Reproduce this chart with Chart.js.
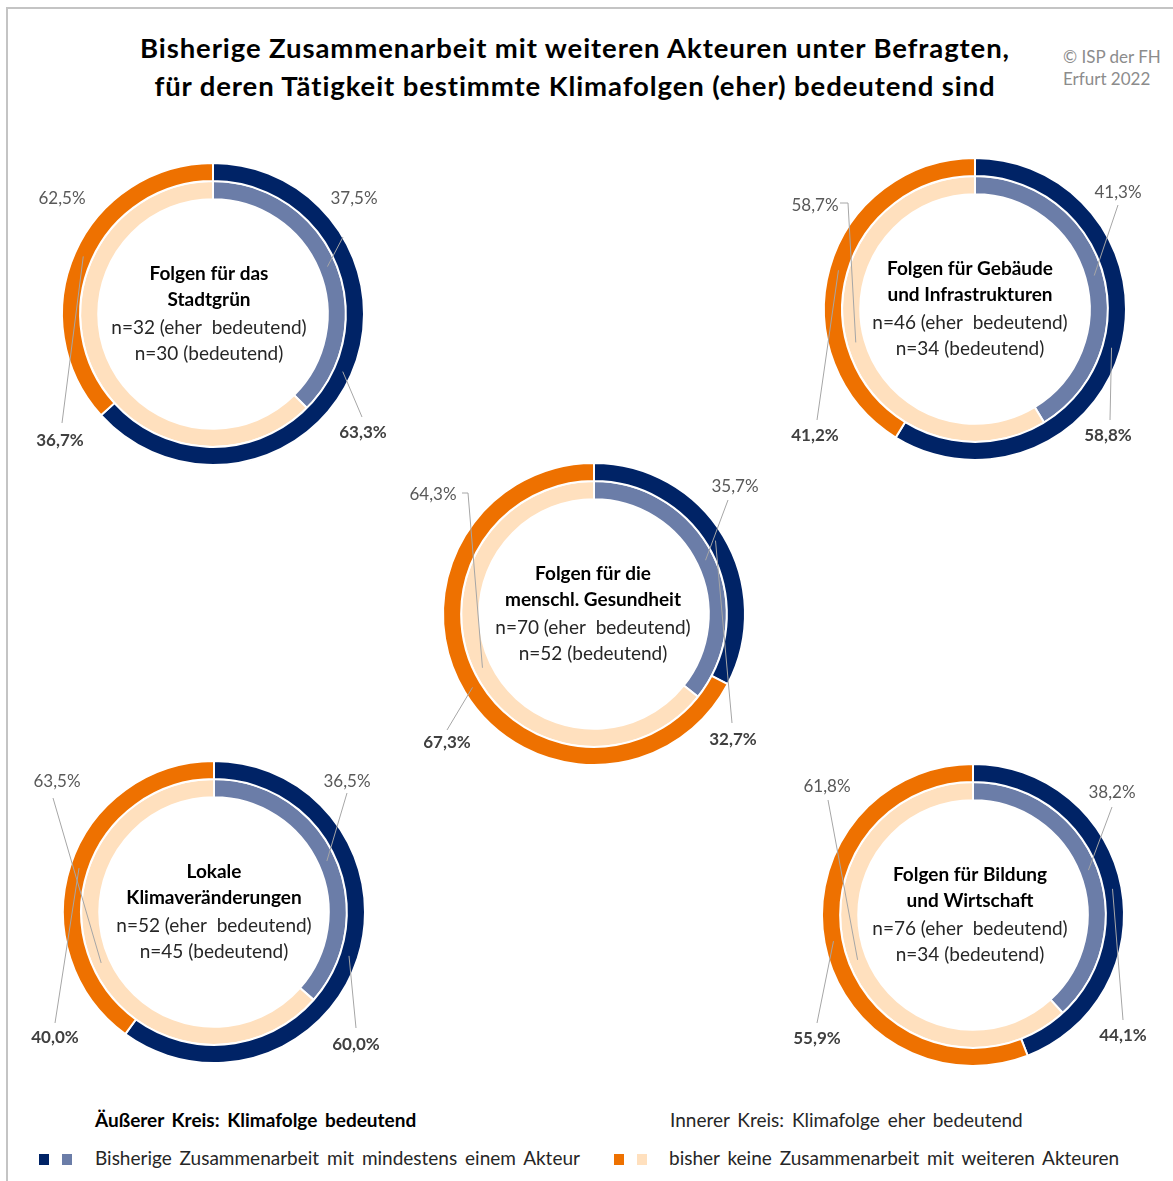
<!DOCTYPE html>
<html lang="de">
<head>
<meta charset="utf-8">
<title>Bisherige Zusammenarbeit mit weiteren Akteuren</title>
<script src="https://cdn.jsdelivr.net/npm/chart.js@4.4.1/dist/chart.umd.min.js"></script>
<style>
  html, body { margin: 0; padding: 0; background: #fff; }
  body { width: 1173px; height: 1181px; position: relative; overflow: hidden; font-family: Lato, "Open Sans", sans-serif; }
  .frame { position: absolute; left: 6px; top: 7px; right: -10px; bottom: -10px; border-left: 2px solid #c4c4c4; border-top: 2px solid #c4c4c4; }
  h1 { position: absolute; left: 0; top: 29px; width: 1150px; margin: 0; text-align: center; font-size: 27.5px; letter-spacing: 0.9px; line-height: 38px; font-weight: 700; color: #000; }
  .copy { position: absolute; left: 1063px; top: 46px; font-size: 17px; line-height: 22px; color: #8c8c8c; }
  .ring { position: absolute; }
  .legend { position: absolute; font-size: 19px; color: #262626; white-space: nowrap; word-spacing: 3px; }
  .legend b { font-weight: 700; color: #000; }
  .sw { position: absolute; width: 10px; height: 11px; }
</style>
</head>
<body>
<div class="frame"></div>
<h1>Bisherige Zusammenarbeit mit weiteren Akteuren unter Befragten,<br>für deren Tätigkeit bestimmte Klimafolgen (eher) bedeutend sind</h1>
<div class="copy">© ISP der FH<br>Erfurt 2022</div>

<div class="ring" id="r0"><canvas id="c0" width="420" height="330"></canvas></div>
<div class="ring" id="r1"><canvas id="c1" width="420" height="330"></canvas></div>
<div class="ring" id="r2"><canvas id="c2" width="420" height="330"></canvas></div>
<div class="ring" id="r3"><canvas id="c3" width="420" height="330"></canvas></div>
<div class="ring" id="r4"><canvas id="c4" width="420" height="330"></canvas></div>

<div class="legend" style="left:95px; top:1108px;"><b>Äußerer Kreis: Klimafolge bedeutend</b></div>
<div class="legend" style="left:670px; top:1108px;">Innerer Kreis: Klimafolge eher bedeutend</div>
<div class="sw" style="left:39px; top:1154px; background:#002366;"></div>
<div class="sw" style="left:62px; top:1154px; background:#6b7da8;"></div>
<div class="legend" style="left:95px; top:1146px;">Bisherige Zusammenarbeit mit mindestens einem Akteur</div>
<div class="sw" style="left:614px; top:1154px; background:#ee7100;"></div>
<div class="sw" style="left:637px; top:1154px; background:#ffe0be;"></div>
<div class="legend" style="left:669px; top:1146px;">bisher keine Zusammenarbeit mit weiteren Akteuren</div>

<script>
// Klimafolgen (Reihenfolge: Stadtgrün, Gebäude, Gesundheit, Lokal, Bildung)
const topics = [
  ['Folgen für das', 'Stadtgrün'],
  ['Folgen für Gebäude', 'und Infrastrukturen'],
  ['Folgen für die', 'menschl. Gesundheit'],
  ['Lokale', 'Klimaveränderungen'],
  ['Folgen für Bildung', 'und Wirtschaft']
]
const nEherBedeutend = [32, 46, 70, 52, 76]
const nBedeutend = [30, 34, 52, 45, 34]

// äußerer Kreis: Klimafolge bedeutend (%)
const outerMitAkteur = [63.3, 58.8, 32.7, 60.0, 44.1]
const outerKeine = [36.7, 41.2, 67.3, 40.0, 55.9]
// innerer Kreis: Klimafolge eher bedeutend (%)
const innerMitAkteur = [37.5, 41.3, 35.7, 36.5, 38.2]
const innerKeine = [62.5, 58.7, 64.3, 63.5, 61.8]

const colors = {
  outer: ['#002366', '#ee7100'],
  inner: ['#6b7da8', '#ffe0be']
}

// Lage der Diagramme (Mittelpunkt) und der Beschriftungen, relativ zum Mittelpunkt
const centers = [[213, 314], [975, 309], [594, 614], [214, 912], [973, 915]]
const textDx = [-4, -5, -1, 0, -3]
const labelLayout = [
  [
    { ring: 1, i: 0, at: [141, -115], lead: [[130, -77]] },
    { ring: 1, i: 1, at: [-151, -115], lead: null },
    { ring: 0, i: 0, at: [150, 119], lead: [[149, 103]] },
    { ring: 0, i: 1, at: [-153, 127], lead: [[-151, 109]] }
  ],
  [
    { ring: 1, i: 0, at: [143, -116], lead: [[143, -104]] },
    { ring: 1, i: 1, at: [-160, -103], lead: [[-135, -106], [-127, -106]] },
    { ring: 0, i: 0, at: [133, 127], lead: [[135, 111]] },
    { ring: 0, i: 1, at: [-160, 127], lead: [[-158, 111]] }
  ],
  [
    { ring: 1, i: 0, at: [141, -127], lead: [[134, -114]] },
    { ring: 1, i: 1, at: [-161, -119], lead: [[-132, -121], [-126, -121]] },
    { ring: 0, i: 0, at: [139, 126], lead: [[138, 109]] },
    { ring: 0, i: 1, at: [-147, 129], lead: [[-147, 116]] }
  ],
  [
    { ring: 1, i: 0, at: [133, -130], lead: [[133, -119]] },
    { ring: 1, i: 1, at: [-157, -130], lead: [[-161, -114]] },
    { ring: 0, i: 0, at: [142, 133], lead: [[142, 116]] },
    { ring: 0, i: 1, at: [-159, 126], lead: [[-159, 111]] }
  ],
  [
    { ring: 1, i: 0, at: [139, -122], lead: [[139, -108]] },
    { ring: 1, i: 1, at: [-146, -128], lead: [[-145, -115]] },
    { ring: 0, i: 0, at: [150, 121], lead: [[150, 105]] },
    { ring: 0, i: 1, at: [-156, 124], lead: [[-156, 108]] }
  ]
]

const W = 420, H = 330, AREA = 304
const FONT = 'Lato, "Open Sans", sans-serif'

function pct(v) {
  return v.toFixed(1).replace('.', ',') + '%'
}

// Mitteltext + Prozentwerte mit Führungslinien
const ringLabels = {
  id: 'ringLabels',
  afterDatasetsDraw(chart, args, opts) {
    const ctx = chart.ctx
    const a = chart.chartArea
    const cx = (a.left + a.right) / 2
    const cy = (a.top + a.bottom) / 2
    ctx.save()
    ctx.textAlign = 'center'
    ctx.textBaseline = 'middle'

    ctx.fillStyle = '#000'
    ctx.font = '700 19px ' + FONT
    opts.title.forEach((line, k) => ctx.fillText(line, cx + opts.dx, cy - 40 + k * 26))
    ctx.fillStyle = '#262626'
    ctx.font = '19px ' + FONT
    ctx.fillText('n=' + opts.nEher + ' (eher  bedeutend)', cx + opts.dx, cy + 14)
    ctx.fillText('n=' + opts.nBed + ' (bedeutend)', cx + opts.dx, cy + 40)

    opts.layout.forEach(p => {
      const arc = chart.getDatasetMeta(p.ring).data[p.i]
      const value = chart.data.datasets[p.ring].data[p.i]
      if (p.lead) {
        const end = arc.tooltipPosition()
        ctx.strokeStyle = '#a6a6a6'
        ctx.lineWidth = 1
        ctx.beginPath()
        ctx.moveTo(cx + p.lead[0][0], cy + p.lead[0][1])
        p.lead.slice(1).forEach(q => ctx.lineTo(cx + q[0], cy + q[1]))
        ctx.lineTo(end.x, end.y)
        ctx.stroke()
      }
      if (p.ring === 0) {
        ctx.font = '700 17px ' + FONT
        ctx.fillStyle = '#404040'
      } else {
        ctx.font = '17px ' + FONT
        ctx.fillStyle = '#595959'
      }
      ctx.fillText(pct(value), cx + p.at[0], cy + p.at[1])
    })
    ctx.restore()
  }
}

centers.forEach((c, k) => {
  const box = document.getElementById('r' + k)
  box.style.left = (c[0] - W / 2) + 'px'
  box.style.top = (c[1] - H / 2) + 'px'

  new Chart(document.getElementById('c' + k), {
    type: 'doughnut',
    data: {
      labels: ['Zusammenarbeit mit mind. einem Akteur', 'keine Zusammenarbeit'],
      datasets: [
        {
          label: 'bedeutend',
          data: [outerMitAkteur[k], outerKeine[k]],
          backgroundColor: colors.outer,
          borderColor: '#ffffff',
          borderWidth: 2
        },
        {
          label: 'eher bedeutend',
          data: [innerMitAkteur[k], innerKeine[k]],
          backgroundColor: colors.inner,
          borderColor: '#ffffff',
          borderWidth: 2
        }
      ]
    },
    options: {
      responsive: false,
      animation: false,
      events: [],
      cutout: '76%',
      layout: {
        padding: { left: (W - AREA) / 2, right: (W - AREA) / 2, top: (H - AREA) / 2, bottom: (H - AREA) / 2 }
      },
      plugins: {
        legend: { display: false },
        tooltip: { enabled: false },
        ringLabels: {
          title: topics[k],
          nEher: nEherBedeutend[k],
          nBed: nBedeutend[k],
          dx: textDx[k],
          layout: labelLayout[k]
        }
      }
    },
    plugins: [ringLabels]
  })
})
</script>
</body>
</html>
